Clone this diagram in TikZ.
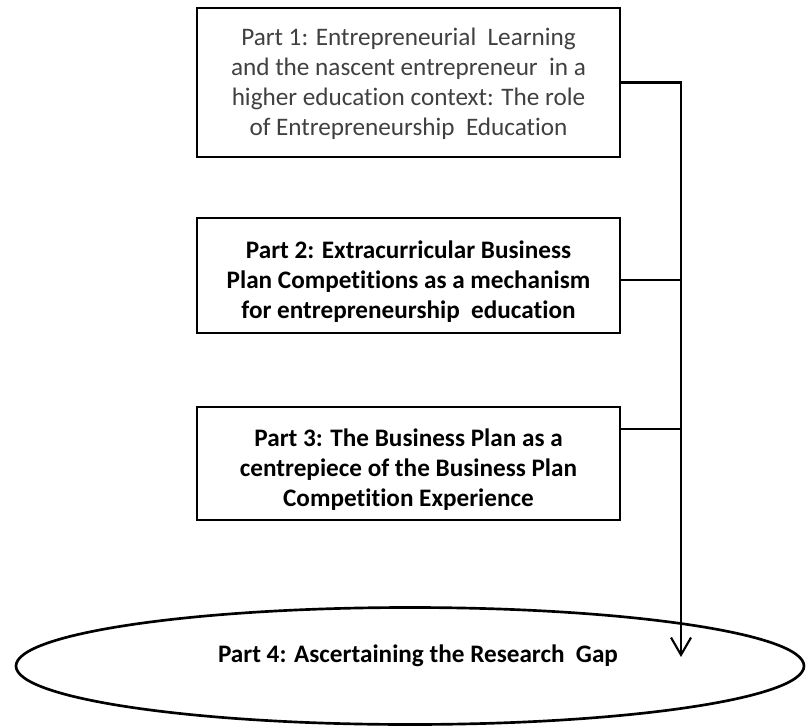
\documentclass[tikz,border=0pt]{standalone}
\usepackage{fontspec}
\setmainfont{Carlito}[Ligatures={NoCommon,NoRare,NoContextual}]
\usetikzlibrary{arrows.meta,shapes.geometric,calc}
\definecolor{softgray}{HTML}{404040}
\tikzset{
  partbox/.style={draw=black, line width=1.5pt, rectangle, minimum width=317.25pt, inner sep=0pt},
  parttext/.style={align=center, font=\fontsize{18.9pt}{22.5pt}\selectfont, inner sep=0pt},
  boldtext/.style={parttext, font=\fontsize{18.9pt}{22.5pt}\selectfont\bfseries},
  link/.style={draw=black, line width=1.6pt},
}
\begin{document}
\begin{tikzpicture}[x=0.75pt,y=-0.75pt]
\useasboundingbox (0,0) rectangle (806,727);
% boxes
\node[partbox, minimum height=111.75pt] (b1) at (408.5,82.5) {};
\node[partbox, minimum height=86.25pt] (b2) at (408.5,275.5) {};
\node[partbox, minimum height=84.75pt] (b3) at (408.5,463.5) {};
% texts
\node[parttext, text=softgray] (t1) at (408.5,84) {Part 1: Entrepreneurial\ \ Learning\\and the nascent entrepreneur\ \ in a\\higher education context: The role\\of Entrepreneurship\ \ Education};
\node[boldtext] (t2) at (408.5,282) {Part 2: Extracurricular Business\\Plan Competitions as a mechanism\\for entrepreneurship\ \ education};
\node[boldtext] (t3) at (408.5,470) {Part 3: The Business Plan as a\\centrepiece of the Business Plan\\Competition Experience};
% ellipse
\node[draw=black, line width=2pt, ellipse, minimum width=591pt, minimum height=87.75pt, inner sep=0pt] (e4) at (410,666) {};
\node[boldtext] (t4) at (418,656) {Part 4: Ascertaining the Research\ \ Gap};
% connectors
\coordinate (tip) at (681,657);
\coordinate (p2) at ($(b2.north east)!0.54!(b2.south east)$);
\coordinate (p3) at ($(b3.north east)!0.2!(b3.south east)$);
\draw[link, -{Straight Barb[length=13pt,width=15pt,line width=1.6pt]}] (b1.east) -| (tip);
\draw[link] (p2) -- (p2 -| tip);
\draw[link] (p3) -- (p3 -| tip);
\end{tikzpicture}
\end{document}
